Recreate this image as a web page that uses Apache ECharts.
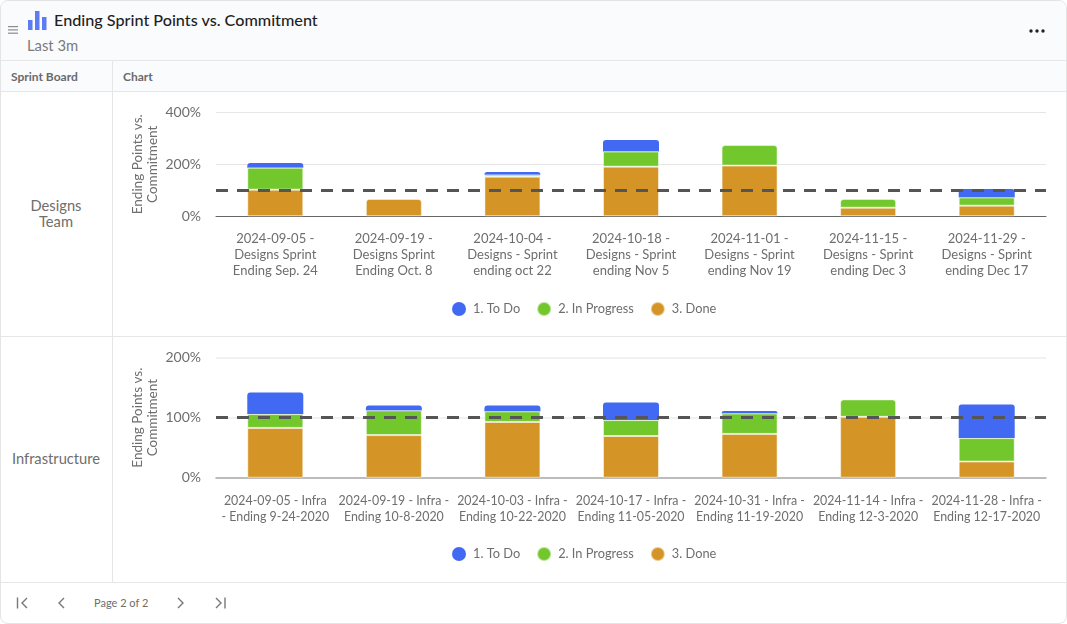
<!DOCTYPE html>
<html><head><meta charset="utf-8">
<script src="https://cdn.jsdelivr.net/npm/echarts@6/dist/echarts.min.js"></script>
<style>
html,body{margin:0;padding:0;background:#fff;width:1067px;height:624px;overflow:hidden;font-family:Lato,sans-serif;color:#676767}
.abs{position:absolute;white-space:nowrap}
#frame{left:0;top:0;width:1065px;height:622px;border:1px solid #e4e4e4;border-radius:8px;overflow:hidden;box-sizing:content-box}
.line{position:absolute;background:#e6e6e6}
#title{left:54px;top:10px;font-size:16.2px;font-weight:500;color:#1f1f1f;line-height:20px}
#sub{left:27px;top:37px;font-size:14.8px;color:#7a7a7a;line-height:16px}
.th{top:70px;font-size:12px;font-weight:700;color:#6a6a6a;line-height:14px}
.rowh{left:0;width:112px;text-align:center;font-size:14.7px;color:#6e6e6e;line-height:16px;white-space:normal}
#page{left:94px;top:596px;font-size:11px;color:#6e6e6e;line-height:14px}
.chart{position:absolute;left:113px;width:953px}
</style></head><body>
<div class="abs" id="frame">
</div>
<div class="abs" style="left:1px;top:1px;width:1065px;height:59px;background:#fafbfd;border-radius:8px 8px 0 0"></div>
<div class="abs" style="left:1px;top:61px;width:1065px;height:30px;background:#fafbfd"></div>
<div class="line" style="left:1px;top:60px;width:1065px;height:1px"></div>
<div class="line" style="left:1px;top:91px;width:1065px;height:1px"></div>
<div class="line" style="left:1px;top:336px;width:1065px;height:1px"></div>
<div class="line" style="left:1px;top:582px;width:1065px;height:1px"></div>
<div class="line" style="left:112px;top:61px;width:1px;height:521px"></div>
<svg class="abs" style="left:0;top:0" width="120" height="40">
 <g fill="#8c8c8c"><rect x="8" y="26" width="10" height="1.2"/><rect x="8" y="29.3" width="10" height="1.2"/><rect x="8" y="32.6" width="10" height="1.2"/></g>
 <g fill="#5b7cf2"><rect x="28" y="20" width="4.5" height="10"/><rect x="35" y="11" width="4.5" height="19"/><rect x="42" y="17" width="4.5" height="13"/></g>
</svg>
<div class="abs" id="title">Ending Sprint Points vs. Commitment</div>
<div class="abs" id="sub">Last 3m</div>
<svg class="abs" style="left:1025px;top:25px" width="24" height="12"><g fill="#222"><circle cx="6" cy="6" r="1.7"/><circle cx="12" cy="6" r="1.7"/><circle cx="18" cy="6" r="1.7"/></g></svg>
<div class="abs th" style="left:11px">Sprint Board</div>
<div class="abs th" style="left:123px">Chart</div>
<div class="abs rowh" style="top:197px">Designs<br>Team</div>
<div class="abs rowh" style="top:450px">Infrastructure</div>
<svg class="abs" style="left:0;top:590px" width="240" height="26" fill="none" stroke="#777" stroke-width="1.4">
 <path d="M17.5 7.5v11M27 8l-5 5 5 5"/><path d="M64 8l-5 5 5 5"/><path d="M178 8l5 5-5 5"/><path d="M216 8l5 5-5 5M225 7.5v11"/>
</svg>
<div class="abs" id="page">Page 2 of 2</div>
<div class="chart" id="c1" style="top:92px;height:244px"></div>
<div class="chart" id="c2" style="top:337px;height:245px"></div>
<script>
var seriesNames = ['1. To Do', '2. In Progress', '3. Done'];
var designsCategories = [
  '2024-09-05 -\nDesigns Sprint\nEnding Sep. 24',
  '2024-09-19 -\nDesigns Sprint\nEnding Oct. 8',
  '2024-10-04 -\nDesigns - Sprint\nending oct 22',
  '2024-10-18 -\nDesigns - Sprint\nending Nov 5',
  '2024-11-01 -\nDesigns - Sprint\nending Nov 19',
  '2024-11-15 -\nDesigns - Sprint\nending Dec 3',
  '2024-11-29 -\nDesigns - Sprint\nending Dec 17'
];
var designsToDo =       [18, null, 10.5, 44.5, null, null, 33];
var designsInProgress = [84.5, null, 7.5, 58, 79, 34, 31];
var designsDone =       [102.5, 67, 152.5, 191, 195, 33, 41];
var infraCategories = [
  '2024-09-05 - Infra\n- Ending 9-24-2020',
  '2024-09-19 - Infra -\nEnding 10-8-2020',
  '2024-10-03 - Infra -\nEnding 10-22-2020',
  '2024-10-17 - Infra -\nEnding 11-05-2020',
  '2024-10-31 - Infra -\nEnding 11-19-2020',
  '2024-11-14 - Infra -\nEnding 12-3-2020',
  '2024-11-28 - Infra -\nEnding 12-17-2020'
];
var infraToDo =       [36, 8.5, 10, 29.5, 4, null, 56];
var infraInProgress = [23, 41, 17.5, 26.5, 34, 29, 39];
var infraDone =       [83, 71, 93, 69.5, 73, 101.5, 27];
var commitment = 100;
var colors = ['#4169F2', '#71C72C', '#D49526'];
var FONT = 'Lato, sans-serif', TXT = '#6e6e6e';

function seriesData(vals, above){
  return vals.map(function(v,i){
    var isTop = above.every(function(a){return a[i]==null;});
    return {value:v, itemStyle:{borderRadius:isTop?[3,3,0,0]:0}};
  });
}
function makeOption(cats, todo, prog, done, maxY, step, gridLine, axisLine, gridTop, gridH, catSize){
  function bar(idx, vals, above, z, bw){
    return {name:seriesNames[idx], type:'bar', stack:'s', barWidth:56, data:seriesData(vals,above), z:z,
      itemStyle:{color:colors[idx], borderColor:'rgba(255,255,255,0.5)', borderWidth:bw},
      emphasis:{disabled:true}, animation:false};
  }
  var d = bar(2, done, [prog, todo], 4, 1);
  d.markLine = {silent:true, symbol:'none', animation:false, label:{show:false},
    lineStyle:{color:'#555', type:[12,9], width:3}, data:[{yAxis:commitment}], z:10};
  return {
    animation:false,
    textStyle:{fontFamily:FONT},
    grid:{left:103, right:20, top:gridTop, height:gridH},
    legend:{data:seriesNames, left:334, top:204, icon:'circle', itemWidth:14, itemHeight:14, itemGap:16, selectedMode:false,
      textStyle:{color:TXT, fontSize:12.8, fontFamily:FONT, padding:[0,0,0,2]}},
    xAxis:{type:'category', data:cats, axisTick:{show:false},
      axisLine:{lineStyle:axisLine},
      axisLabel:{color:TXT, fontSize:catSize, lineHeight:16, margin:15, interval:0, fontFamily:FONT}},
    yAxis:{type:'value', min:0, max:maxY, interval:step,
      name:'Ending Points vs.\nCommitment', nameLocation:'middle', nameGap:56, nameRotate:90, nameMoveOverlap:false,
      nameTextStyle:{color:TXT, fontSize:13.5, lineHeight:15, fontFamily:FONT},
      axisLabel:{color:TXT, fontSize:14, margin:15, formatter:'{value}%', fontFamily:FONT},
      axisLine:{show:false}, axisTick:{show:false}, splitLine:{lineStyle:gridLine}},
    series:[d, bar(1,prog,[todo],3,1), bar(0,todo,[],2,0)]
  };
}
var c1 = echarts.init(document.getElementById('c1'));
c1.setOption(makeOption(designsCategories, designsToDo, designsInProgress, designsDone, 400, 200, {color:'#e6e6e6',width:1}, {color:'#666',width:1}, 20.3, 104, 13));
var c2 = echarts.init(document.getElementById('c2'));
c2.setOption(makeOption(infraCategories, infraToDo, infraInProgress, infraDone, 200, 100, {color:'#f1f1f1',width:2}, {color:'#aaa',width:1.5}, 20.7, 120, 12.4));
</script>
</body></html>
